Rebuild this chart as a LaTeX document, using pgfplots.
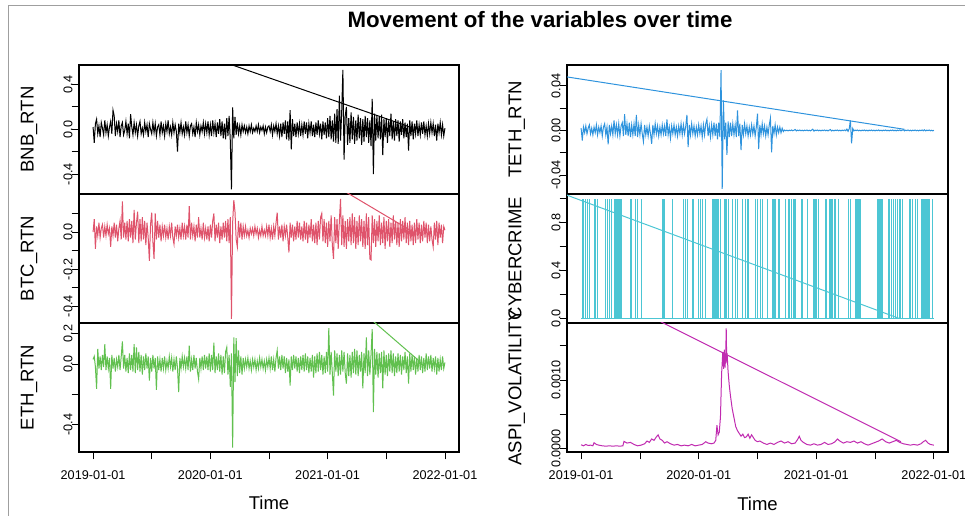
\documentclass[border=0pt]{standalone}
\usepackage{pgfplots}
\usepackage{pgfplotstable}
\pgfplotsset{compat=1.18}
\usepackage{fontspec}
\setmainfont{Liberation Sans}
\definecolor{cBTC}{HTML}{DF536B}
\definecolor{cETH}{HTML}{61C04F}
\definecolor{cTETH}{HTML}{2E93DD}
\definecolor{cCYB}{HTML}{4CC6D4}
\definecolor{cASPI}{HTML}{C02BB0}

\pgfplotstableread[row sep=\\]{
y\\
0.02\\-0.12\\0.05\\0.09\\-0.04\\0.03\\-0.07\\0.06\\0.01\\-0.05\\
0.08\\-0.03\\0.04\\-0.06\\0.02\\0.07\\-0.04\\0.17\\0.12\\-0.06\\
0.05\\-0.02\\0.08\\-0.07\\0.03\\0.06\\-0.05\\-0.01\\0.07\\-0.04\\
0.05\\-0.08\\0.135\\0.02\\-0.05\\0.06\\-0.03\\0.04\\-0.06\\0.03\\
0.07\\-0.04\\0.01\\-0.05\\0.06\\-0.02\\0.04\\-0.07\\0.05\\0.00\\
-0.04\\0.06\\-0.03\\0.05\\-0.06\\0.02\\0.04\\-0.05\\0.07\\-0.03\\
0.03\\-0.06\\0.05\\-0.02\\0.08\\-0.04\\0.02\\-0.05\\0.06\\-0.03\\
0.04\\-0.02\\-0.20\\0.05\\-0.03\\0.06\\-0.04\\0.02\\-0.05\\0.07\\
-0.03\\0.04\\-0.06\\0.03\\0.05\\-0.04\\0.02\\-0.07\\0.06\\-0.02\\
0.04\\-0.05\\0.03\\-0.02\\0.06\\-0.04\\0.05\\-0.03\\0.07\\-0.05\\
0.04\\-0.06\\0.08\\-0.03\\0.05\\-0.07\\0.06\\-0.04\\0.09\\-0.06\\
0.07\\-0.08\\0.05\\-0.09\\0.10\\-0.06\\0.12\\-0.10\\-0.535\\0.195\\
-0.08\\0.11\\-0.05\\0.06\\-0.04\\0.03\\-0.05\\0.04\\-0.02\\0.03\\
-0.03\\0.02\\-0.04\\0.03\\-0.02\\0.04\\-0.03\\0.01\\-0.02\\0.03\\
-0.02\\0.04\\-0.03\\0.02\\-0.01\\0.03\\-0.04\\0.02\\-0.03\\0.02\\
0.03\\-0.02\\0.04\\-0.05\\0.03\\-0.02\\0.05\\-0.04\\0.03\\-0.06\\
0.05\\-0.07\\0.06\\-0.04\\0.08\\-0.09\\0.07\\-0.10\\0.17\\-0.18\\
0.09\\-0.06\\0.05\\-0.07\\0.06\\-0.04\\0.05\\-0.06\\0.04\\-0.05\\
0.07\\-0.04\\0.06\\-0.08\\0.05\\-0.03\\0.07\\-0.06\\0.04\\-0.07\\
0.06\\-0.05\\0.08\\-0.04\\0.05\\-0.09\\0.07\\-0.05\\0.06\\-0.08\\
0.10\\-0.07\\0.12\\-0.09\\0.08\\-0.11\\0.14\\-0.12\\0.18\\-0.13\\
0.30\\-0.10\\0.16\\0.53\\-0.27\\0.12\\0.20\\-0.14\\0.10\\-0.12\\
0.15\\-0.09\\0.11\\-0.13\\0.08\\-0.10\\0.13\\-0.08\\0.10\\-0.14\\
0.09\\-0.11\\0.12\\-0.07\\0.10\\-0.12\\0.08\\-0.15\\0.27\\-0.40\\
0.14\\-0.10\\0.12\\-0.08\\0.11\\-0.09\\0.13\\-0.23\\0.09\\-0.07\\
0.10\\-0.12\\0.08\\-0.06\\0.14\\-0.09\\0.07\\-0.10\\0.09\\-0.06\\
0.08\\-0.11\\0.07\\-0.05\\0.09\\-0.08\\0.06\\-0.07\\0.05\\-0.19\\
0.08\\-0.06\\0.07\\-0.09\\0.05\\-0.04\\0.08\\-0.06\\0.04\\-0.05\\
0.06\\-0.04\\0.07\\-0.05\\0.03\\-0.06\\0.05\\-0.04\\0.06\\-0.03\\
0.05\\-0.06\\0.04\\-0.10\\0.05\\-0.03\\0.06\\-0.05\\0.04\\-0.06\\
0.01\\
}\bnb

\pgfplotstableread[row sep=\\]{
y\\
0.00\\0.07\\-0.09\\0.03\\-0.02\\0.05\\-0.03\\0.02\\0.04\\-0.03\\
0.03\\-0.02\\0.04\\-0.01\\0.02\\-0.08\\0.03\\-0.02\\0.05\\-0.03\\
0.04\\-0.05\\0.02\\0.06\\-0.04\\0.165\\-0.03\\0.05\\-0.04\\0.06\\
-0.05\\0.07\\-0.03\\0.06\\-0.06\\0.12\\-0.04\\0.05\\0.11\\-0.06\\
0.07\\-0.05\\0.08\\-0.04\\0.06\\-0.07\\0.05\\-0.03\\-0.155\\0.04\\
0.105\\-0.05\\-0.145\\0.10\\-0.04\\0.06\\-0.03\\0.04\\-0.05\\0.03\\
-0.02\\0.04\\-0.03\\0.02\\-0.04\\0.03\\-0.02\\0.05\\-0.03\\-0.065\\
0.03\\-0.02\\0.04\\-0.03\\0.02\\-0.04\\0.05\\-0.02\\0.03\\-0.04\\
0.04\\-0.03\\0.14\\-0.04\\0.05\\-0.02\\0.03\\-0.05\\0.04\\-0.03\\
0.08\\-0.03\\0.02\\-0.04\\0.05\\-0.03\\0.02\\-0.04\\0.03\\-0.05\\
0.04\\-0.03\\0.06\\0.10\\-0.05\\0.04\\-0.03\\0.05\\-0.06\\0.03\\
-0.04\\0.05\\-0.03\\0.06\\-0.05\\0.07\\-0.06\\0.08\\-0.468\\0.05\\
0.172\\0.11\\-0.04\\-0.08\\0.06\\-0.03\\0.05\\-0.04\\0.03\\-0.02\\
0.03\\-0.02\\0.01\\-0.03\\0.02\\-0.01\\0.02\\-0.02\\0.03\\-0.01\\
0.02\\-0.03\\0.01\\-0.02\\0.03\\-0.02\\0.01\\-0.02\\0.03\\-0.02\\
0.04\\-0.03\\0.02\\-0.04\\0.03\\-0.02\\0.05\\0.105\\-0.04\\0.03\\
-0.03\\0.04\\-0.05\\0.03\\-0.02\\0.04\\-0.03\\-0.11\\0.05\\-0.03\\
0.04\\-0.05\\0.03\\-0.04\\0.06\\-0.03\\0.05\\-0.04\\0.03\\-0.05\\
0.06\\-0.04\\0.05\\-0.06\\0.04\\-0.03\\0.07\\-0.05\\0.04\\-0.06\\
0.05\\-0.07\\0.06\\-0.04\\0.08\\0.10\\-0.05\\0.07\\-0.06\\0.05\\
-0.08\\0.06\\-0.05\\0.09\\-0.07\\-0.145\\0.08\\-0.06\\0.07\\-0.09\\
0.06\\0.178\\-0.07\\0.09\\-0.08\\0.06\\-0.09\\0.07\\-0.05\\0.08\\
-0.07\\0.10\\-0.06\\0.08\\-0.09\\0.06\\-0.07\\0.09\\-0.05\\0.07\\
-0.08\\0.06\\-0.09\\0.10\\-0.07\\0.08\\-0.145\\-0.15\\0.09\\-0.06\\
0.07\\-0.08\\0.06\\-0.05\\0.09\\-0.07\\0.05\\-0.06\\0.08\\-0.09\\
0.06\\-0.05\\0.07\\-0.08\\0.05\\-0.06\\0.09\\-0.04\\0.06\\-0.07\\
0.05\\-0.08\\0.07\\-0.05\\0.06\\-0.04\\0.08\\-0.06\\0.05\\-0.07\\
0.06\\-0.05\\0.04\\-0.07\\0.05\\-0.06\\0.07\\-0.04\\0.05\\-0.06\\
0.04\\-0.05\\0.06\\-0.03\\0.05\\-0.06\\0.04\\-0.05\\0.03\\-0.04\\
-0.08\\0.05\\-0.04\\0.06\\-0.07\\0.05\\-0.03\\0.04\\-0.06\\0.03\\
0.01\\
}\btc

\pgfplotstableread[row sep=\\]{
y\\
0.03\\0.05\\-0.02\\-0.164\\0.10\\-0.03\\0.05\\-0.04\\0.06\\-0.02\\
0.13\\-0.04\\0.05\\-0.03\\0.04\\-0.164\\0.06\\-0.03\\0.04\\-0.05\\
0.03\\-0.02\\0.06\\-0.04\\0.05\\0.149\\-0.03\\0.06\\-0.05\\0.04\\
-0.06\\0.07\\-0.04\\0.06\\-0.05\\0.13\\-0.06\\0.11\\-0.04\\0.08\\
-0.05\\0.06\\-0.07\\0.05\\-0.04\\0.07\\-0.03\\0.05\\-0.11\\0.04\\
-0.05\\0.06\\-0.03\\0.04\\-0.17\\0.05\\-0.04\\0.03\\-0.05\\0.04\\
-0.03\\0.05\\-0.04\\0.02\\-0.03\\0.05\\-0.02\\0.04\\-0.05\\0.03\\
-0.04\\0.05\\-0.03\\-0.186\\0.04\\-0.03\\0.05\\-0.02\\0.04\\-0.03\\
0.05\\-0.04\\0.12\\-0.05\\0.03\\-0.04\\0.06\\-0.03\\0.04\\-0.05\\
-0.10\\0.04\\-0.03\\0.05\\-0.04\\0.06\\-0.03\\0.05\\-0.04\\0.07\\
-0.05\\0.06\\-0.04\\0.14\\-0.06\\0.05\\-0.04\\0.07\\-0.05\\0.06\\
-0.07\\0.05\\-0.06\\0.08\\0.11\\-0.07\\0.06\\-0.15\\0.07\\-0.551\\
0.175\\-0.12\\0.17\\-0.08\\0.09\\-0.06\\0.05\\-0.07\\0.04\\-0.03\\
0.03\\-0.02\\0.04\\-0.03\\0.02\\-0.04\\0.03\\-0.02\\0.03\\-0.04\\
0.02\\-0.03\\0.04\\-0.02\\0.03\\-0.03\\0.02\\-0.04\\0.03\\-0.02\\
0.04\\-0.03\\0.05\\-0.04\\0.03\\-0.05\\0.04\\0.09\\-0.03\\0.05\\
-0.04\\0.06\\-0.03\\0.05\\-0.06\\0.04\\-0.05\\0.03\\-0.142\\0.05\\
-0.04\\0.06\\-0.03\\0.05\\-0.05\\0.04\\-0.06\\0.05\\-0.04\\0.06\\
-0.05\\0.07\\-0.04\\0.05\\-0.06\\0.04\\-0.05\\0.06\\-0.09\\0.05\\
-0.06\\0.07\\-0.05\\0.08\\-0.04\\0.06\\-0.07\\0.05\\-0.06\\0.08\\
-0.05\\0.236\\-0.07\\0.08\\-0.06\\-0.208\\0.09\\-0.05\\0.07\\-0.08\\
0.06\\-0.07\\0.09\\-0.05\\0.08\\-0.06\\-0.13\\0.07\\-0.08\\0.06\\
-0.09\\0.08\\-0.06\\0.10\\-0.07\\0.09\\-0.08\\0.06\\-0.05\\0.08\\
-0.16\\0.07\\-0.06\\0.175\\-0.08\\0.09\\-0.07\\0.06\\0.23\\-0.317\\
0.10\\-0.07\\0.08\\-0.09\\0.07\\-0.06\\0.08\\-0.16\\0.09\\-0.07\\
0.06\\-0.08\\0.07\\-0.05\\0.09\\-0.06\\0.07\\-0.08\\0.05\\-0.06\\
0.07\\-0.05\\0.06\\-0.07\\0.05\\-0.04\\0.08\\-0.06\\0.05\\-0.13\\
0.07\\-0.05\\0.06\\-0.04\\0.05\\-0.07\\0.04\\-0.05\\0.06\\-0.04\\
0.05\\-0.06\\0.04\\-0.05\\0.07\\-0.04\\0.05\\-0.03\\0.06\\-0.05\\
0.04\\-0.03\\0.05\\-0.07\\0.04\\-0.05\\0.03\\-0.04\\0.05\\-0.03\\
0.01\\
}\eth

\pgfplotstableread[row sep=\\]{
y\\
0.002\\-0.009\\0.003\\-0.002\\0.004\\-0.003\\0.002\\0.005\\-0.003\\0.002\\
-0.004\\0.003\\-0.002\\0.005\\-0.004\\0.003\\-0.002\\0.004\\-0.005\\0.003\\
0.006\\-0.004\\0.003\\-0.0125\\0.005\\-0.003\\0.004\\-0.004\\0.009\\-0.003\\
0.005\\-0.004\\0.006\\-0.005\\0.004\\0.007\\-0.005\\0.0146\\-0.004\\0.006\\
-0.005\\0.007\\-0.006\\0.005\\-0.004\\0.006\\-0.005\\0.014\\-0.006\\0.005\\
-0.004\\0.006\\-0.003\\-0.010\\0.005\\-0.004\\0.003\\-0.005\\0.004\\-0.003\\
-0.012\\0.005\\-0.004\\0.006\\-0.003\\0.004\\-0.005\\0.003\\-0.004\\0.005\\
-0.003\\0.004\\-0.005\\0.010\\-0.004\\0.003\\-0.007\\0.004\\-0.003\\0.005\\
-0.004\\0.003\\-0.005\\0.004\\-0.003\\0.006\\-0.004\\0.005\\-0.003\\0.004\\
0.014\\-0.015\\0.005\\-0.004\\0.006\\-0.003\\0.004\\-0.005\\0.003\\-0.004\\
0.005\\-0.003\\0.004\\-0.006\\0.005\\-0.004\\0.006\\0.010\\-0.005\\0.004\\
-0.006\\0.005\\-0.004\\0.007\\-0.005\\0.006\\-0.008\\0.007\\-0.006\\0.054\\
-0.0525\\0.027\\-0.008\\0.007\\-0.022\\0.008\\-0.006\\0.007\\-0.005\\0.006\\
-0.004\\0.005\\-0.006\\0.018\\-0.005\\0.006\\-0.0176\\0.005\\-0.004\\0.006\\
-0.003\\0.004\\-0.005\\0.003\\-0.004\\0.005\\-0.003\\0.004\\-0.005\\0.003\\
0.015\\-0.0167\\0.005\\-0.004\\0.006\\-0.003\\0.004\\-0.005\\0.003\\-0.004\\
0.005\\0.011\\-0.0197\\0.004\\-0.003\\0.005\\-0.004\\0.003\\-0.002\\0.003\\
-0.002\\0.002\\-0.001\\0.0004\\-0.0003\\0.0002\\-0.0004\\0.0003\\-0.0002\\0.0004\\
-0.0003\\0.0002\\0.0009\\-0.0004\\0.0003\\-0.0002\\0.0004\\-0.0003\\0.0002\\-0.0004\\
0.0003\\-0.0002\\0.0004\\-0.0003\\0.0002\\-0.0004\\0.0003\\0.0011\\-0.0006\\0.0003\\
-0.0002\\0.0004\\-0.0003\\0.0002\\-0.0004\\0.0003\\-0.0002\\0.0004\\-0.0003\\0.0002\\
-0.0004\\0.0003\\0.0008\\-0.0005\\0.0002\\-0.0004\\0.0003\\-0.0002\\0.0004\\-0.0003\\
0.0002\\-0.0004\\0.0003\\-0.0002\\0.0004\\-0.0003\\0.0012\\-0.0008\\0.0015\\0.009\\
-0.0116\\0.0018\\-0.0004\\0.0003\\-0.0002\\0.0004\\-0.0003\\0.0002\\-0.0004\\0.0003\\
-0.0002\\0.0004\\-0.0003\\0.0002\\-0.0004\\0.0003\\-0.0002\\0.0004\\-0.0003\\0.0002\\
-0.0004\\0.0003\\-0.0002\\0.0004\\-0.0003\\0.0002\\-0.0004\\0.0003\\-0.0002\\0.0004\\
-0.0003\\0.0002\\-0.0004\\0.0003\\-0.0002\\0.0004\\-0.0003\\0.0002\\-0.0004\\0.0003\\
-0.0002\\0.0004\\-0.0003\\0.0002\\0.0006\\-0.0004\\0.0003\\-0.0002\\0.0004\\-0.0003\\
0.0002\\-0.0004\\0.0003\\-0.0002\\0.0004\\-0.0003\\0.0002\\-0.0004\\0.0003\\-0.0002\\
0.0004\\-0.0003\\0.0006\\-0.0004\\0.0003\\-0.0002\\0.0004\\-0.0003\\0.0002\\-0.0004\\
0.0002\\
}\teth

\pgfplotsset{
  panel/.style={
    scale only axis, width=285pt, height=96.75pt,
    xmin=-0.12, xmax=3.12,
    axis line style={line width=0.8pt},
    tick align=outside, major tick length=5.5pt,
    tick style={line width=0.6pt, black},
    ytick pos=left, xtick pos=bottom,
    xtick=\empty,
    scaled y ticks=false,
    yticklabel style={rotate=90, anchor=south, inner sep=0pt, font=\fontsize{9.5}{11}\selectfont},
    yticklabel shift=-0.8pt,
    every axis y label/.style={at={(axis description cs:-0.1196,0.5)}, rotate=90, anchor=base, font=\fontsize{13.9}{15}\selectfont},
    every axis plot/.append style={line width=0.75pt},
  },
  bottompanel/.style={
    xtick={0,0.5,1,1.5,2,2.5,3},
    xticklabels={2019-01-01,,2020-01-01,,2021-01-01,,2022-01-01},
    xticklabel style={anchor=north, inner sep=0pt, font=\fontsize{9.5}{11}\selectfont},
    xticklabel shift=8.4pt,
    xlabel={Time},
    every axis x label/.style={at={(axis description cs:0.5,0)}, anchor=base, yshift=-43.5pt, font=\fontsize{13.9}{15}\selectfont},
  },
}

\begin{document}
\begin{tikzpicture}
\path[use as bounding box] (0,0) rectangle (723.75pt,-387pt);
\draw[gray!75, line width=1.1pt] (6.2pt,-387pt) -- (6.2pt,-4.3pt) -- (723.75pt,-4.3pt);
\node[anchor=base, font=\bfseries\fontsize{16.7}{19}\selectfont] at (405pt,-21pt) {Movement of the variables over time};

% ---------- left column ----------
\begin{axis}[panel, at={(59.25pt,-48.75pt)}, anchor=north west,
  ymin=-0.577, ymax=0.573,
  ytick={-0.4,-0.2,0,0.2,0.4}, yticklabels={-0.4,,0.0,,0.4},
  ylabel={BNB\_RTN}]
\addplot[black] table[x expr=\coordindex*0.01, y=y] {\bnb};
\addplot[black] coordinates {(-0.12,1.05) (2.73,0.01)};
\end{axis}

\begin{axis}[panel, at={(59.25pt,-145.5pt)}, anchor=north west,
  ymin=-0.490, ymax=0.205,
  ytick={-0.4,-0.3,-0.2,-0.1,0,0.1}, yticklabels={-0.4,,-0.2,,0.0,},
  ylabel={BTC\_RTN}]
\addplot[cBTC] table[x expr=\coordindex*0.01, y=y] {\btc};
\addplot[cBTC] coordinates {(-0.12,1.07) (2.73,0.0)};
\end{axis}

\begin{axis}[panel, bottompanel, at={(59.25pt,-242.25pt)}, anchor=north west,
  ymin=-0.580, ymax=0.270,
  ytick={-0.4,-0.2,0,0.2}, yticklabels={-0.4,,0.0,0.2},
  ylabel={ETH\_RTN}]
\addplot[cETH] table[x expr=\coordindex*0.01, y=y] {\eth};
\addplot[cETH] coordinates {(-0.12,1.96) (2.78,0.02)};
\end{axis}

% ---------- right column ----------
\begin{axis}[panel, width=285.75pt, at={(425.25pt,-48.75pt)}, anchor=north west,
  ymin=-0.057, ymax=0.0587,
  ytick={-0.04,-0.02,0,0.02,0.04}, yticklabels={-0.04,,0.00,,0.04},
  ylabel={TETH\_RTN}]
\addplot[cTETH] table[x expr=\coordindex*0.01, y=y] {\teth};
\addplot[cTETH] coordinates {(-0.12,0.048) (2.75,0.001)};
\end{axis}

\begin{axis}[panel, width=285.75pt, at={(425.25pt,-145.5pt)}, anchor=north west,
  ymin=-0.04, ymax=1.04,
  ytick={0,0.2,0.4,0.6,0.8,1.0}, yticklabels={0.0,,0.4,,0.8,},
  ylabel={CYBERCRIME}]
\addplot[cCYB] coordinates {(0,0) (3,0)};
\addplot[cCYB, ycomb] coordinates {
(0.011,1)(0.023,1)(0.034,1)(0.057,1)(0.068,1)(0.114,1)(0.125,1)(0.142,1)(0.210,1)(0.227,1)
(0.239,1)(0.261,1)(0.284,1)(0.290,1)(0.295,1)(0.301,1)(0.307,1)(0.313,1)(0.318,1)(0.324,1)
(0.330,1)(0.336,1)(0.341,1)(0.420,1)(0.432,1)(0.460,1)(0.477,1)(0.517,1)(0.693,1)(0.699,1)
(0.705,1)(0.773,1)(0.869,1)(0.886,1)(0.903,1)(0.943,1)(0.955,1)(0.994,1)(1.011,1)(1.028,1)
(1.057,1)(1.114,1)(1.120,1)(1.125,1)(1.131,1)(1.136,1)(1.142,1)(1.148,1)(1.153,1)(1.159,1)
(1.165,1)(1.170,1)(1.187,1)(1.216,1)(1.222,1)(1.227,1)(1.233,1)(1.239,1)(1.256,1)(1.284,1)
(1.313,1)(1.330,1)(1.369,1)(1.398,1)(1.412,1)(1.421,1)(1.483,1)(1.497,1)(1.526,1)(1.545,1)
(1.583,1)(1.625,1)(1.632,1)(1.639,1)(1.646,1)(1.653,1)(1.676,1)(1.682,1)(1.688,1)(1.739,1)
(1.761,1)(1.767,1)(1.773,1)(1.790,1)(1.810,1)(1.817,1)(1.824,1)(1.875,1)(1.886,1)(1.923,1)
(1.972,1)(1.978,1)(1.984,1)(1.989,1)(2.000,1)(2.017,1)(2.074,1)(2.085,1)(2.114,1)(2.118,1)
(2.122,1)(2.126,1)(2.136,1)(2.140,1)(2.151,1)(2.155,1)(2.160,1)(2.165,1)(2.193,1)(2.278,1)
(2.293,1)(2.330,1)(2.334,1)(2.338,1)(2.341,1)(2.346,1)(2.352,1)(2.357,1)(2.364,1)(2.370,1)
(2.378,1)(2.520,1)(2.524,1)(2.529,1)(2.534,1)(2.540,1)(2.548,1)(2.553,1)(2.558,1)(2.563,1)
(2.614,1)(2.625,1)(2.642,1)(2.653,1)(2.670,1)(2.690,1)(2.705,1)(2.719,1)(2.733,1)(2.790,1)
(2.804,1)(2.818,1)(2.847,1)(2.861,1)(2.898,1)(2.902,1)(2.909,1)(2.915,1)(2.921,1)(2.932,1)
(2.940,1)(2.946,1)(2.953,1)(2.960,1)(2.989,1)};
\addplot[cCYB] coordinates {(-0.12,1.03) (2.70,0.0)};
\end{axis}

\begin{axis}[panel, bottompanel, width=285.75pt, at={(425.25pt,-242.25pt)}, anchor=north west,
  ymin=-0.00005, ymax=0.00183,
  ytick={0,0.0005,0.001,0.0015}, yticklabels={0.0000,,0.0010,},
  ylabel={ASPI\_VOLATILITY}]
\addplot[cASPI] coordinates {
(0,0.000055)(0.02,0.00004)(0.04,0.00006)(0.06,0.000045)(0.08,0.00005)(0.10,0.00004)(0.11,0.000085)(0.13,0.00006)
(0.15,0.00005)(0.18,0.00004)(0.21,0.000035)(0.24,0.00004)(0.27,0.000035)(0.30,0.00004)(0.33,0.000035)(0.355,0.00004)
(0.365,0.000105)(0.39,0.00008)(0.42,0.00009)(0.45,0.00006)(0.48,0.00004)(0.51,0.00005)(0.54,0.00007)(0.56,0.00011)
(0.58,0.00009)(0.60,0.00014)(0.62,0.00012)(0.64,0.00017)(0.655,0.0002)(0.67,0.00014)(0.69,0.00012)(0.71,0.00008)
(0.73,0.0001)(0.76,0.00007)(0.79,0.00005)(0.82,0.00006)(0.85,0.00004)(0.88,0.00005)(0.91,0.00004)(0.94,0.00006)
(0.97,0.00004)(1.00,0.00005)(1.03,0.00006)(1.06,0.0001)(1.08,0.00008)(1.11,0.00007)(1.13,0.00008)(1.145,0.00012)
(1.155,0.00034)(1.165,0.0002)(1.175,0.00024)(1.185,0.00046)(1.195,0.0011)(1.205,0.00141)(1.212,0.00116)(1.218,0.00144)
(1.224,0.00118)(1.230,0.00138)(1.234,0.00175)(1.238,0.00130)(1.243,0.00134)(1.25,0.00112)(1.26,0.00092)(1.27,0.00077)
(1.285,0.00058)(1.30,0.00045)(1.315,0.00032)(1.33,0.00026)(1.345,0.00022)(1.36,0.00018)(1.375,0.00021)(1.39,0.00016)
(1.405,0.00017)(1.42,0.00021)(1.435,0.00015)(1.45,0.0002)(1.465,0.00016)(1.48,0.00012)(1.50,0.0001)(1.52,0.00011)
(1.55,0.00008)(1.58,0.00006)(1.61,0.00008)(1.64,0.00006)(1.67,0.00009)(1.70,0.00011)(1.73,0.00008)(1.76,0.0001)
(1.79,0.00007)(1.82,0.00008)(1.84,0.00013)(1.855,0.00018)(1.87,0.00012)(1.89,0.00009)(1.92,0.00006)(1.95,0.00005)
(1.98,0.00007)(2.01,0.00005)(2.04,0.00006)(2.07,0.00009)(2.10,0.00006)(2.13,0.00007)(2.16,0.0001)(2.18,0.00014)
(2.20,0.00011)(2.23,0.00008)(2.26,0.0001)(2.29,0.00009)(2.32,0.00011)(2.35,0.00008)(2.38,0.0001)(2.41,0.00007)
(2.44,0.00005)(2.47,0.00007)(2.50,0.00009)(2.53,0.00011)(2.56,0.00014)(2.59,0.00010)(2.62,0.00008)(2.65,0.0001)
(2.68,0.00012)(2.71,0.00009)(2.74,0.00007)(2.77,0.00006)(2.80,0.00005)(2.83,0.00006)(2.86,0.00005)(2.89,0.00007)
(2.91,0.0001)(2.93,0.00012)(2.95,0.00008)(2.97,0.00006)(3.00,0.00005)};
\addplot[cASPI] coordinates {(-0.12,0.00253) (2.72,0.0001)};
\end{axis}
\end{tikzpicture}
\end{document}
